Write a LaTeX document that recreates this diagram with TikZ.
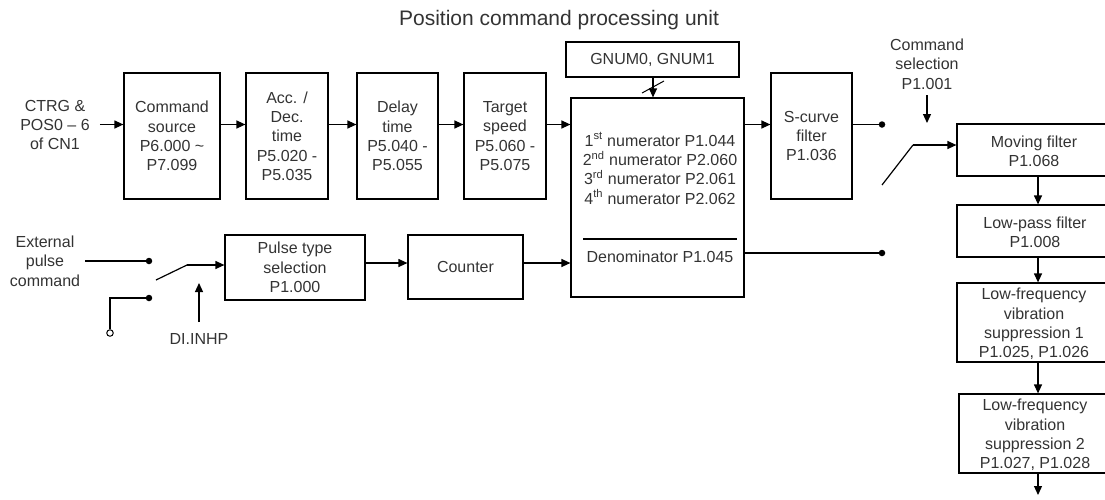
\documentclass[tikz,border=0pt]{standalone}
\usepackage{fontspec}
\setmainfont{Liberation Sans}
\usetikzlibrary{arrows.meta}
\begin{document}
\begin{tikzpicture}[x=1pt,y=-1pt,
  txt/.style={align=center, inner sep=0pt, text=black!80, font=\fontsize{16}{19.3}\selectfont},
  box/.style={txt, draw=black, line width=1.2pt},
  arr/.style={-{Triangle[length=9pt,width=8pt]}, line width=1.2pt},
  ln/.style={line width=1.2pt},
  dot/.style={circle, fill=black, inner sep=0pt, minimum size=6.5pt},
  odot/.style={circle, draw=black, fill=white, line width=1pt, inner sep=0pt, minimum size=6.5pt}]
\useasboundingbox (0,0) rectangle (1105,499);
\clip (0,0) rectangle (1105,499);
% title
\node[txt, font=\fontsize{21}{24}\selectfont] (title) at (559,20) {Position command processing unit};
% top row
\node[txt] (ctrg) at (55,125) {CTRG \&\\POS0 – 6\\of CN1};
\node[box, minimum width=96pt, minimum height=126pt] (cs) at (172,136) {Command\\source\\P6.000 \char`\~\\P7.099};
\node[box, minimum width=82pt, minimum height=126pt] (acc) at (287,136) {Acc. /\\Dec.\\time\\P5.020 -\\P5.035};
\node[box, minimum width=81pt, minimum height=126pt] (dly) at (397.5,136) {Delay\\time\\P5.040 -\\P5.055};
\node[box, minimum width=82pt, minimum height=126pt] (tgt) at (505,136) {Target\\speed\\P5.060 -\\P5.075};
\node[box, minimum width=173pt, minimum height=199pt] (big) at (657.5,197.5) {};
\node[txt] (num) at (660,168.5) {1\textsuperscript{st} numerator P1.044\\2\textsuperscript{nd} numerator P2.060\\3\textsuperscript{rd} numerator P2.061\\4\textsuperscript{th} numerator P2.062};
\node[txt] (den) at (660,257) {Denominator P1.045};
\coordinate (fl) at (583,239);
\coordinate (fr) at (737,239);
\draw[ln] (fl) -- (fr);
\node[box, minimum width=173pt, minimum height=35pt] (gnum) at (652.5,59.5) {GNUM0, GNUM1};
\node[box, minimum width=81pt, minimum height=126pt] (scf) at (811.5,136) {S-curve\\filter\\P1.036};
% row coordinates
\coordinate (r1) at (0,124.5);
\coordinate (r2) at (0,263);
\coordinate (r3) at (0,253);
\draw[arr] (ctrg.east |- r1) ++(10,0) coordinate (cin) -- (cs.west |- r1);
\draw[arr] (cs.east |- r1) -- (acc.west |- r1);
\draw[arr] (acc.east |- r1) -- (dly.west |- r1);
\draw[arr] (dly.east |- r1) -- (tgt.west |- r1);
\draw[arr] (tgt.east |- r1) -- (big.west |- r1);
\draw[arr] (big.east |- r1) -- (scf.west |- r1);
\node[dot] (d1) at (882,124.5) {};
\draw[ln] (scf.east |- r1) -- (d1.center);
% gnum arrow
\coordinate (gx) at (653,0);
\draw[arr] (gnum.south -| gx) -- (big.north -| gx);
\coordinate (sl1) at (642,93);
\coordinate (sl2) at (664,81);
\draw[line width=1pt] (sl1) -- (sl2);
% bottom-left
\node[txt] (ext) at (45,261) {External\\pulse\\command};
\node[dot] (d2) at (149,261) {};
\node[dot] (d3) at (149,298) {};
\node[odot] (oc) at (110,333) {};
\coordinate (e0) at (85,261);
\draw[ln] (e0) -- (d2.center);
\draw[ln] (d3.center) -| (oc.north);
\node[box, minimum width=140pt, minimum height=65pt] (pts) at (295,267.5) {Pulse type\\selection\\P1.000};
\node[box, minimum width=115pt, minimum height=64pt] (cnt) at (465.5,267) {Counter};
\coordinate (sw1) at (156,280);
\coordinate (sw2) at (187,265);
\draw[ln] (sw1) -- (sw2);
\draw[arr] (sw2) -- (pts.west |- sw2);
\node[txt] (inhp) at (199,339) {DI.INHP};
\coordinate (ia) at (199,322);
\coordinate (ib) at (199,283);
\draw[arr] (ia) -- (ib);
\draw[arr] (pts.east |- r2) -- (cnt.west |- r2);
\draw[arr] (cnt.east |- r2) -- (big.west |- r2);
\node[dot] (d4) at (882,253) {};
\draw[ln] (big.east |- r3) -- (d4.center);
% command selection
\node[txt] (csel) at (927,64) {Command\\selection\\P1.001};
\coordinate (ca) at (927,95);
\coordinate (cb) at (927,123);
\draw[arr] (ca) -- (cb);
\coordinate (sw3) at (882,185);
\coordinate (sw4) at (913,145);
\draw[ln] (sw3) -- (sw4);
% right column
\node[box, minimum width=162pt, minimum height=52pt] (mov) at (1038,150) {};
\node[txt] (movt) at (1034,151) {Moving filter\\P1.068};
\draw[arr] (sw4) -- (mov.west |- sw4);
\node[box, minimum width=162pt, minimum height=52pt] (lpf) at (1038,231) {};
\node[txt] (lpft) at (1035,232) {Low-pass filter\\P1.008};
\node[box, minimum width=162pt, minimum height=79pt] (lf1) at (1038,322.5) {};
\node[txt] (lf1t) at (1034,324) {Low-frequency\\vibration\\suppression 1\\P1.025, P1.026};
\node[box, minimum width=158pt, minimum height=79pt] (lf2) at (1038,433.5) {};
\node[txt] (lf2t) at (1035,435) {Low-frequency\\vibration\\suppression 2\\P1.027, P1.028};
\coordinate (fin) at (1038,495);
\draw[arr] (mov.south) -- (lpf.north);
\draw[arr] (lpf.south) -- (lf1.north);
\draw[arr] (lf1.south) -- (lf2.north);
\draw[arr] (lf2.south) -- (fin);
\end{tikzpicture}
\end{document}
